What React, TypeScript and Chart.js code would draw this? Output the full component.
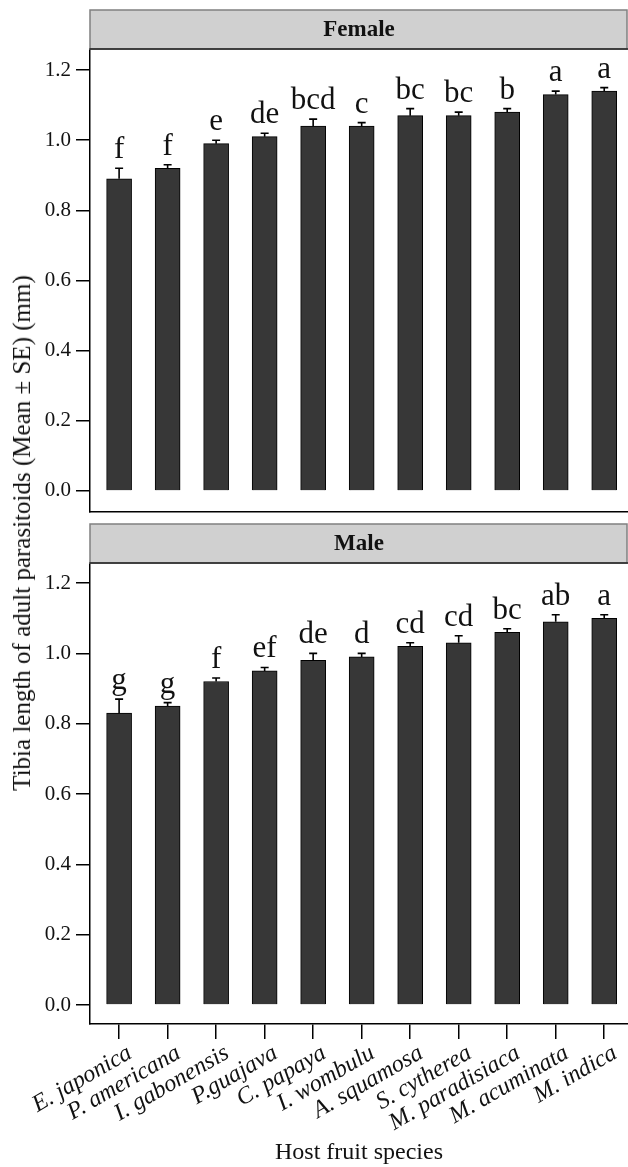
import { useEffect, useRef } from 'react';
import { Chart, registerables } from 'chart.js';
Chart.register(...registerables);

const species = ['E. japonica', 'P. americana', 'I. gabonensis', 'P.guajava', 'C. papaya', 'I. wombulu', 'A. squamosa', 'S. cytherea', 'M. paradisiaca', 'M. acuminata', 'M. indica'];
const femaleMean = [0.89, 0.92, 0.99, 1.01, 1.04, 1.04, 1.07, 1.07, 1.08, 1.13, 1.14];
const femaleSE = [0.03, 0.01, 0.01, 0.01, 0.02, 0.01, 0.02, 0.01, 0.01, 0.01, 0.01];
const femaleLetters = ['f', 'f', 'e', 'de', 'bcd', 'c', 'bc', 'bc', 'b', 'a', 'a'];
const maleMean = [0.83, 0.85, 0.92, 0.95, 0.98, 0.99, 1.02, 1.03, 1.06, 1.09, 1.10];
const maleSE = [0.04, 0.01, 0.01, 0.01, 0.02, 0.01, 0.01, 0.02, 0.01, 0.02, 0.01];
const maleLetters = ['g', 'g', 'f', 'ef', 'de', 'd', 'cd', 'cd', 'bc', 'ab', 'a'];
const yTicks = [0, 0.2, 0.4, 0.6, 0.8, 1.0, 1.2];

const SERIF = '"Liberation Serif", "DejaVu Serif", serif';

function makeConfig(opts: {
  panel: string; means: number[]; ses: number[]; letters: string[];
  yMin: number; yMax: number; stripTop: number; stripHeight: number;
  showX: boolean; padTop: number; padBottom: number; xHeight: number;
}): any {
  const { panel, means, ses, letters, yMin, yMax, stripTop, stripHeight, showX, padTop, padBottom, xHeight } = opts;
  const annotate = {
    id: 'annotate-' + panel,
    afterDatasetsDraw(chart: any) {
      const ctx = chart.ctx;
      const xs = chart.scales.x;
      const ys = chart.scales.y;
      const area = chart.chartArea;
      ctx.save();
      // error bars
      ctx.strokeStyle = '#000';
      ctx.lineWidth = 1.6;
      means.forEach((m, i) => {
        const x = xs.getPixelForValue(i);
        const y0 = ys.getPixelForValue(m);
        const y1 = ys.getPixelForValue(m + ses[i]);
        ctx.beginPath();
        ctx.moveTo(x, y0);
        ctx.lineTo(x, y1);
        ctx.moveTo(x - 4, y1);
        ctx.lineTo(x + 4, y1);
        ctx.stroke();
      });
      // letters
      ctx.fillStyle = '#111';
      ctx.font = '31px ' + SERIF;
      ctx.textAlign = 'center';
      ctx.textBaseline = 'alphabetic';
      means.forEach((m, i) => {
        const x = xs.getPixelForValue(i);
        const y1 = ys.getPixelForValue(m + ses[i]);
        ctx.fillText(letters[i], x, y1 - 10);
      });
      // strip
      const left = area.left;
      const right = chart.width - 1;
      ctx.fillStyle = '#d0d0d0';
      ctx.fillRect(left, stripTop, right - left, stripHeight);
      ctx.strokeStyle = '#808080';
      ctx.lineWidth = 1.5;
      ctx.strokeRect(left, stripTop, right - left, stripHeight);
      ctx.strokeStyle = '#222';
      ctx.lineWidth = 1.5;
      ctx.beginPath();
      ctx.moveTo(left, stripTop + stripHeight);
      ctx.lineTo(right + 1, stripTop + stripHeight);
      ctx.stroke();
      ctx.fillStyle = '#111';
      ctx.font = 'bold 23px ' + SERIF;
      ctx.textAlign = 'center';
      ctx.textBaseline = 'middle';
      ctx.fillText(panel, (area.left + area.right) / 2, stripTop + stripHeight / 2 + 1);
      ctx.restore();
    },
  };

  return {
    type: 'bar',
    data: {
      datasets: [{
        label: panel,
        data: means.map((v, i) => ({ x: i, y: v })),
        backgroundColor: '#373737',
        borderColor: '#000',
        borderWidth: 1,
        barThickness: 25,
      }],
    },
    options: {
      animation: false,
      responsive: false,
      maintainAspectRatio: false,
      layout: { padding: { left: 0, right: 0, top: padTop, bottom: padBottom } },
      plugins: { legend: { display: false }, tooltip: { enabled: false } },
      scales: {
        x: {
          type: 'linear',
          offset: false,
          min: -0.6,
          max: 10.49,
          afterBuildTicks: (s: any) => { s.ticks = species.map((_, i) => ({ value: i })); },
          afterFit: (s: any) => { s.height = xHeight; s.paddingLeft = 0; s.paddingRight = 0; },
          grid: { display: showX, offset: false, drawOnChartArea: false, drawTicks: true, tickLength: 15, color: '#000', lineWidth: 1.5 },
          border: { display: true, color: '#000', width: 1.5 },
          ticks: {
            display: showX,
            autoSkip: false,
            minRotation: 30,
            maxRotation: 30,
            padding: 0,
            labelOffset: 11,
            color: '#111',
            font: { family: SERIF, size: 24, style: 'italic' },
            callback: (v: any) => species[Math.round(v)] ?? '',
          },
          title: {
            display: showX,
            text: 'Host fruit species',
            color: '#111',
            font: { family: SERIF, size: 24 },
            padding: { top: 0, bottom: 0 },
          },
        },
        y: {
          type: 'linear',
          min: yMin,
          max: yMax,
          afterBuildTicks: (s: any) => { s.ticks = yTicks.map((v) => ({ value: v })); },
          afterFit: (s: any) => { s.width = 90; s.paddingTop = 0; s.paddingBottom = 0; },
          grid: { display: true, drawOnChartArea: false, drawTicks: true, tickLength: 14, color: '#000', lineWidth: 1.5 },
          border: { display: true, color: '#000', width: 1.5 },
          ticks: {
            padding: 5,
            color: '#111',
            font: { family: SERIF, size: 21 },
            callback: (v: any) => Number(v).toFixed(1),
          },
        },
      },
    },
    plugins: [annotate],
  };
}

export default function App() {
  const topRef = useRef<HTMLCanvasElement>(null);
  const botRef = useRef<HTMLCanvasElement>(null);
  useEffect(() => {
    const c1 = new Chart(topRef.current as HTMLCanvasElement, makeConfig({
      panel: 'Female', means: femaleMean, ses: femaleSE, letters: femaleLetters,
      yMin: -0.06, yMax: 1.26, stripTop: 10, stripHeight: 39, showX: false, padTop: 49, padBottom: 8, xHeight: 0,
    }));
    const c2 = new Chart(botRef.current as HTMLCanvasElement, makeConfig({
      panel: 'Male', means: maleMean, ses: maleSE, letters: maleLetters,
      yMin: -0.054, yMax: 1.257, stripTop: 4, stripHeight: 39, showX: true, padTop: 43, padBottom: 0, xHeight: 143,
    }));
    return () => { c1.destroy(); c2.destroy(); };
  }, []);
  return (
    <div style={{ position: 'absolute', left: 0, top: 0, width: 628, height: 1167, overflow: 'hidden', background: '#fff' }}>
      <canvas ref={topRef} width={628} height={520} style={{ position: 'absolute', left: 0, top: 0, width: 628, height: 520 }} />
      <canvas ref={botRef} width={628} height={647} style={{ position: 'absolute', left: 0, top: 520, width: 628, height: 647 }} />
      <div style={{
        position: 'absolute', left: 22, top: 533, transform: 'translate(-50%, -50%) rotate(-90deg)',
        whiteSpace: 'nowrap', fontFamily: SERIF, fontSize: 25, color: '#111', lineHeight: '28px',
      }}>Tibia length of adult parasitoids (Mean ± SE) (mm)</div>
    </div>
  );
}
